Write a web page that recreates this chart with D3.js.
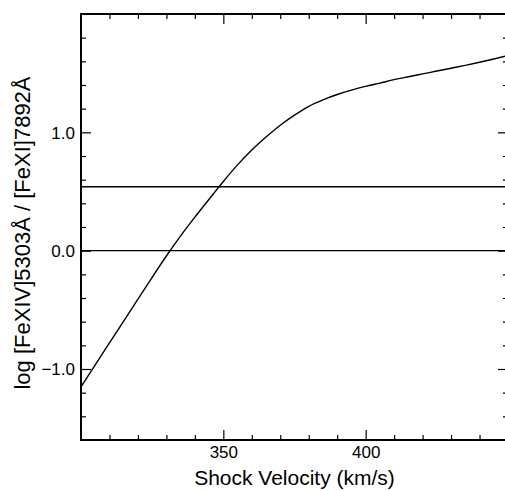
<!DOCTYPE html>
<html>
<head>
<meta charset="utf-8">
<script src="https://cdn.jsdelivr.net/npm/d3@7"></script>
<style>
  html, body { margin: 0; padding: 0; background: #fff; }
  svg { display: block; }
  text { font-family: "Liberation Sans", Arial, Helvetica, sans-serif; fill: #000; }
</style>
</head>
<body>
<script>
// ---- data ----
const velocity = [300, 305, 310, 315, 320, 325, 330, 335, 340, 345, 350, 355, 360, 365, 370, 375,
                  380, 385, 390, 395, 400, 405, 410, 415, 420, 425, 430, 435, 440, 445, 450];
const logRatio = [-1.15, -0.965, -0.78, -0.595, -0.41, -0.225, -0.045, 0.125, 0.283, 0.435, 0.585,
                  0.725, 0.85, 0.96, 1.06, 1.145, 1.22, 1.275, 1.32, 1.357, 1.388, 1.416, 1.445, 1.47,
                  1.494, 1.518, 1.542, 1.566, 1.592, 1.62, 1.65];
const refLines = [0.0, 0.54];
const xMajorTicks = [350, 400];
const xMinorTicks = [310, 320, 330, 340, 360, 370, 380, 390, 410, 420, 430, 440];
const yMajorTicks = [-1.0, 0.0, 1.0];
const yMinorTicks = [-1.4, -1.2, -0.8, -0.6, -0.4, -0.2, 0.2, 0.4, 0.6, 0.8, 1.2, 1.4, 1.6, 1.8];
const xTitle = "Shock Velocity (km/s)";
const yTitle = "log [FeXIV]5303Å / [FeXI]7892Å";

// ---- layout ----
const W = 505, H = 491;
const mLeft = 81, mRight = 508, mTop = 14, mBottom = 440;

const svg = d3.select("body").append("svg").attr("width", W).attr("height", H);

const x = d3.scaleLinear().domain([300, 450]).range([mLeft, mRight]);
const y = d3.scaleLinear().domain([-1.6, 2.0]).range([mBottom, mTop]);

svg.append("defs").append("clipPath").attr("id", "clip")
  .append("rect").attr("x", mLeft).attr("y", mTop).attr("width", mRight - mLeft).attr("height", mBottom - mTop);

const plot = svg.append("g").attr("clip-path", "url(#clip)");

// reference horizontal lines
plot.selectAll("line.ref").data(refLines).enter().append("line")
  .attr("class", "ref")
  .attr("x1", mLeft).attr("x2", mRight)
  .attr("y1", d => y(d)).attr("y2", d => y(d))
  .attr("stroke", "#000").attr("stroke-width", 1.3);

// curve
const line = d3.line().x((d, i) => x(velocity[i])).y(d => y(d)).curve(d3.curveMonotoneX);
plot.append("path").datum(logRatio)
  .attr("d", line).attr("fill", "none").attr("stroke", "#000").attr("stroke-width", 1.4);

// ---- axes (ticks inward) ----
function ax(makeGen, major, minor, transform, majLen, minLen, showLabels, fmt) {
  const gMin = svg.append("g").attr("transform", transform)
    .call(makeGen().tickValues(minor).tickSize(minLen).tickFormat(""));
  gMin.select(".domain").remove();
  const g = svg.append("g").attr("transform", transform)
    .call(makeGen().tickValues(major).tickSize(majLen).tickPadding(0).tickFormat(showLabels ? fmt : ""));
  g.select(".domain").remove();
  [gMin, g].forEach(gg => gg.selectAll("line").attr("stroke", "#000").attr("stroke-width", 1.2));
  return g;
}

// bottom
const gb = ax(() => d3.axisTop(x), xMajorTicks, xMinorTicks, `translate(0,${mBottom})`, 10, 5, true, d3.format("d"));
gb.selectAll("text").attr("y", 18).attr("dy", 0)
  .style("font-size", "17px").attr("text-anchor", "middle");

// top
ax(() => d3.axisBottom(x), xMajorTicks, xMinorTicks, `translate(0,${mTop})`, 10, 5, false);

// left
const gl = ax(() => d3.axisRight(y), yMajorTicks, yMinorTicks, `translate(${mLeft},0)`, 10, 5, true, d3.format(".1f"));
gl.selectAll("text").attr("x", -6).attr("dy", "0.35em")
  .attr("text-anchor", "end").style("font-size", "17px");

// right
ax(() => d3.axisLeft(y), yMajorTicks, yMinorTicks, `translate(${mRight},0)`, 10, 5, false);

// frame lines
svg.append("line").attr("x1", mLeft).attr("x2", mLeft).attr("y1", mTop - 1).attr("y2", mBottom + 1)
  .attr("stroke", "#000").attr("stroke-width", 2);
svg.append("line").attr("x1", mLeft - 1).attr("x2", mRight).attr("y1", mBottom).attr("y2", mBottom)
  .attr("stroke", "#000").attr("stroke-width", 2);
svg.append("line").attr("x1", mLeft - 1).attr("x2", mRight).attr("y1", mTop).attr("y2", mTop)
  .attr("stroke", "#000").attr("stroke-width", 2);
svg.append("line").attr("x1", mRight).attr("x2", mRight).attr("y1", mTop).attr("y2", mBottom)
  .attr("stroke", "#000").attr("stroke-width", 2);

// titles
svg.append("text").attr("x", (mLeft + mRight) / 2).attr("y", 485)
  .attr("text-anchor", "middle").style("font-size", "21px").text(xTitle);
svg.append("text")
  .attr("transform", `translate(30,233) rotate(-90)`)
  .attr("text-anchor", "middle").style("font-size", "22px").text(yTitle);
</script>
</body>
</html>
